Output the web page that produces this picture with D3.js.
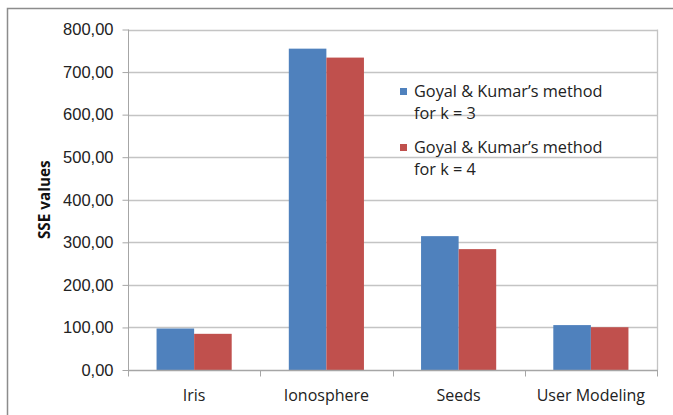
<!DOCTYPE html>
<html><head><meta charset="utf-8">
<script src="https://cdn.jsdelivr.net/npm/d3@7"></script>
<style>
html,body{margin:0;padding:0;background:#fff;}
svg{display:block;font-family:"Open Sans",sans-serif;}
</style></head>
<body>
<svg id="chart" width="673" height="415"></svg>
<script>
const categories = ["Iris", "Ionosphere", "Seeds", "User Modeling"];
const seriesNames = ["Goyal & Kumar\u2019s method for k = 3", "Goyal & Kumar\u2019s method for k = 4"];
const seriesK3 = [97.5, 755, 314.5, 105.5];
const seriesK4 = [85, 734, 284, 100.5];
const yTicks = [0, 100, 200, 300, 400, 500, 600, 700, 800];
const colors = ["#4f81bd", "#c0504d"];

(function () {
const svg = d3.select("#chart");
const pL = 128, pR = 657, pT = 29.5, pB = 370;

// outer frame
svg.append("rect").attr("x", 7.5).attr("y", 8.5).attr("width", 700).attr("height", 450)
  .attr("fill", "none").attr("stroke", "#8c8c8c").attr("stroke-width", 1.5);

const x = d3.scaleBand().domain(categories).range([pL, pR]);
const xs = d3.scaleBand().domain([0, 1]).range([0, x.bandwidth()]).paddingInner(0).paddingOuter(0.76);
const y = d3.scaleLinear().domain([0, 800]).range([pB, pT]);

// gridlines
svg.append("g").selectAll("line").data(yTicks.filter(d => d > 0)).join("line")
  .attr("x1", pL).attr("x2", pR)
  .attr("y1", d => Math.round(y(d)) + 0.5).attr("y2", d => Math.round(y(d)) + 0.5)
  .attr("stroke", "#c4c4c4").attr("stroke-width", 1.3);

// right plot border
svg.append("line").attr("x1", pR + 0.5).attr("x2", pR + 0.5).attr("y1", pT).attr("y2", pB)
  .attr("stroke", "#c4c4c4").attr("stroke-width", 1.3);

// bars
const data = [seriesK3, seriesK4];
data.forEach((vals, si) => {
  svg.append("g").selectAll("rect").data(vals).join("rect")
    .attr("x", (d, i) => x(categories[i]) + xs(si))
    .attr("width", xs.bandwidth())
    .attr("y", d => y(d))
    .attr("height", d => y(0) - y(d))
    .attr("fill", colors[si]);
});

// y axis
const yAxis = d3.axisLeft(y).tickValues(yTicks).tickSize(6).tickPadding(9)
  .tickFormat(d => d3.format(".2f")(d).replace(".", ","));
const gy = svg.append("g").attr("transform", `translate(${pL + 0.5},0)`).call(yAxis);
gy.select(".domain").attr("stroke", "#a6a6a6").attr("d", `M0,${pT}V${pB}`);
gy.selectAll(".tick line").attr("stroke", "#a6a6a6");
gy.selectAll(".tick text").attr("fill", "#222").style("font-size", "16.5px");

// x axis
const gx = svg.append("g").attr("transform", `translate(0,${pB + 0.5})`);
gx.append("line").attr("x1", pL).attr("x2", pR + 1).attr("stroke", "#a6a6a6").attr("stroke-width", 1.3);
const bounds = categories.map(c => x(c)).concat([pR]);
gx.selectAll("line.tk").data(bounds).join("line").attr("class", "tk")
  .attr("x1", d => Math.round(d) + 0.5).attr("x2", d => Math.round(d) + 0.5)
  .attr("y1", 0).attr("y2", 6).attr("stroke", "#a6a6a6");
gx.selectAll("text").data(categories).join("text")
  .attr("x", d => x(d) + x.bandwidth() / 2).attr("y", 30)
  .attr("text-anchor", "middle").attr("fill", "#222").style("font-size", "16px")
  .text(d => d);

// y title
svg.append("text").attr("transform", `translate(50,${(pT + pB) / 2}) rotate(-90)`)
  .attr("text-anchor", "middle").attr("font-weight", "bold").attr("fill", "#111")
  .style("font-size", "15.3px").text("SSE values");

// legend
const legend = svg.append("g");
const legY = [91.5, 147.5];
seriesNames.forEach((name, i) => {
  const g = legend.append("g").attr("transform", `translate(400,${legY[i]})`);
  g.append("rect").attr("x", 0).attr("y", -3.5).attr("width", 7).attr("height", 7).attr("fill", colors[i]);
  const parts = [name.replace(/ for k.*$/, ""), name.replace(/^.* (for k)/, "$1")];
  parts.forEach((p, j) => {
    g.append("text").attr("x", 14).attr("y", 5.5 + j * 22).attr("fill", "#222")
      .style("font-size", "16.3px").text(p);
  });
});
})();
</script>
</body></html>
